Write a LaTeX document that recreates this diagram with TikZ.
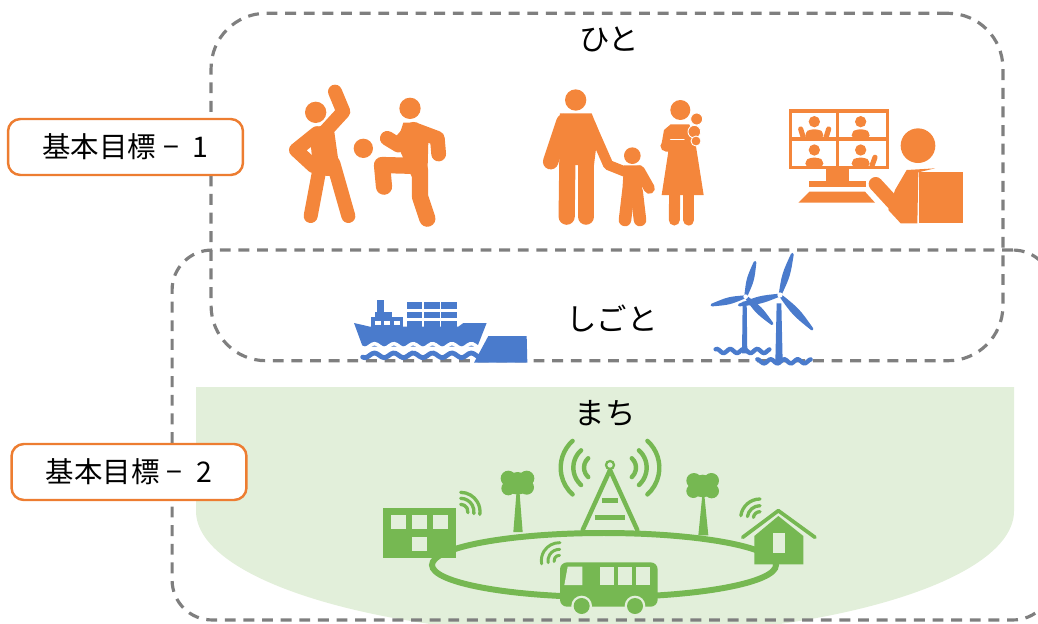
\documentclass[tikz,border=0pt]{standalone}
\usepackage{fontspec}
\setmainfont{Noto Sans CJK JP}
\usetikzlibrary{calc}
\definecolor{iconorange}{HTML}{F4863B}
\definecolor{iconblue}{HTML}{4A7BCC}
\definecolor{icongreen}{HTML}{76B852}
\definecolor{lightgreen}{HTML}{E2EFDA}
\definecolor{labelorange}{HTML}{ED7D31}
\definecolor{dashgray}{HTML}{7F7F7F}
\tikzset{
  areabox/.style={draw=dashgray, line width=1.8pt, dash pattern=on 6.2pt off 4.4pt, minimum width=#1, inner sep=0pt},
  goalbox/.style={draw=labelorange, fill=white, line width=1.4pt, rounded corners=7pt, minimum width=4.7cm, minimum height=1.12cm, inner sep=0pt, font=\fontsize{16.2}{20}\selectfont},
  areatext/.style={font=\fontsize{17.3}{20}\selectfont, inner sep=0pt},
  limb/.style={draw=iconorange, line width=#1*0.21pt, line cap=round, line join=round},
  stroke/.style={draw=icongreen, line width=#1*0.21pt, line cap=round, line join=round},
  seam/.style={draw=#1, line width=0.8pt, line cap=round},
  tide/.style={draw=iconblue, line width=#1*0.21pt, line cap=round},
  blade/.style={fill=iconblue, draw=iconblue, line width=1.6pt, line join=round}
}
\begin{document}
\begin{tikzpicture}[x=0.02cm, y=-0.02cm]
  \path[use as bounding box, clip] (0,0) rectangle (1038,623);
  % town ground
  \fill[lightgreen] (196,387) -- (1014,387) -- (1014,511) arc (0:180:409 and 125) -- cycle;

  % dashed areas
  \node[areabox=15.84cm, minimum height=6.95cm, rounded corners=1.1cm] (hitobox) at (607,187) {};
  \node[areabox=17.62cm, minimum height=7.4cm, rounded corners=0.8cm] (shigotobox) at (612.5,435) {};
  \node[areatext] (hito) at (609,39) {ひと};
  \node[areatext] (shigoto) at (612,318) {しごと};
  \node[areatext] (machi) at (605,413) {まち};

  % goal labels
  \node[goalbox] (goalone) at (125.5,147) {基本目標\hspace{4pt}−\hspace{8pt}1\hspace{4pt}};
  \node[goalbox] (goaltwo) at (129,472) {基本目標\hspace{4pt}−\hspace{8pt}2\hspace{4pt}};

  % people: ball game, family
  \begin{scope}[shift={(280,80)}, scale=1/3]
    \fill[iconorange] (107,97) circle (32);
    \draw[limb=38] (165,35) -- (190,95) -- (135,155);
    \fill[iconorange] (105,140) -- (160,135) -- (182,290) -- (100,285) -- (96,235) -- (93,200) -- cycle;
    \draw[limb=38] (110,160) -- (48,210) -- (100,258);
    \draw[limb=38] (118,270) -- (92,408);
    \draw[limb=38] (160,250) -- (205,408);
    \fill[iconorange] (250,205) circle (29);
    \fill[iconorange] (390,85) circle (32);
    \fill[iconorange] (370,128) -- (412,128) -- (445,185) -- (442,295) -- (395,290) -- (350,190) -- cycle;
    \draw[limb=40] (400,148) -- (472,175) -- (476,222);
    \draw[limb=40] (322,175) -- (355,195) -- (385,160);
    \draw[limb=44] (415,258) -- (306,255) -- (312,320);
    \draw[limb=44] (420,270) -- (420,350) -- (442,416);
    \fill[iconorange] (887,60) circle (32);
    \fill[iconorange] (840,100) -- (935,100) -- (955,150) -- (942,255) -- (838,255) -- (838,150) -- cycle;
    \draw[limb=42] (852,125) -- (812,245);
    \draw[limb=44] (862,250) -- (860,410);
    \draw[limb=44] (918,250) -- (918,410);
    \draw[limb=28] (930,130) -- (985,255) -- (1035,275);
    \fill[iconorange] (1057,227) circle (25);
    \fill[iconorange] (1032,256) -- (1080,256) -- (1088,345) -- (1026,345) -- cycle;
    \draw[limb=30] (1078,272) -- (1108,325);
    \draw[limb=34] (1045,335) -- (1035,420);
    \draw[limb=34] (1070,335) -- (1080,420);
    \fill[iconorange] (1201,90) circle (30);
    \fill[iconorange] (1172,133) -- (1228,133) -- (1245,180) -- (1271,345) -- (1145,345) -- (1165,215) -- (1145,190) -- (1152,150) -- cycle;
    \draw[limb=30] (1184,340) -- (1183,420);
    \draw[limb=30] (1226,340) -- (1226,420);
    \draw[limb=30] (1158,198) -- (1215,200);
    \fill[iconorange, draw=white, line width=0.5pt] (1243,155) circle (19);
    \fill[iconorange, draw=white, line width=0.5pt] (1248,183) circle (15);
    \fill[iconorange, draw=white, line width=0.5pt] (1250,117) circle (18);
    \draw[seam=white] (1172,178) -- (1212,178);
  \end{scope}

  % online meeting
  \begin{scope}[shift={(780,95)}, scale=1/3]
    \draw[limb=9, line cap=butt, line join=miter] (32,48) rectangle (322,218);
    \draw[limb=9, line cap=butt] (172,48) -- (172,218) (32,132) -- (322,132);
    \foreach \panex/\paney in {103/80, 242/80, 103/165, 242/165} {
      \fill[iconorange] (\panex,\paney) circle (17);
      \fill[iconorange, rounded corners=2pt] ($(\panex,\paney)+(-27,50)$) -- ($(\panex,\paney)+(-27,32)$) -- ($(\panex,\paney)+(-14,23)$) -- ($(\panex,\paney)+(14,23)$) -- ($(\panex,\paney)+(27,32)$) -- ($(\panex,\paney)+(27,50)$) -- cycle;
    }
    \draw[limb=14] (62,102) -- (70,128);
    \draw[limb=14] (146,102) -- (138,128);
    \draw[limb=14] (285,187) -- (276,212);
    \fill[iconorange] (138,220) rectangle (208,258);
    \fill[iconorange] (88,258) rectangle (258,275);
    \fill[iconorange] (88,290) -- (255,290) -- (285,323) -- (55,323) -- cycle;
    \fill[iconorange] (414,152) circle (52);
    \fill[iconorange] (380,225) -- (465,220) -- (415,232) -- (412,385) -- (362,385) -- (325,345) -- (345,285) -- cycle;
    \draw[limb=38] (287,267) -- (345,330);
    \fill[iconorange] (418,232) rectangle (550,385);
  \end{scope}

  % container ship
  \begin{scope}[shift={(340,245)}, scale=1/3]
    \fill[iconblue] (110,165) rectangle (132,200);
    \fill[iconblue] (105,200) rectangle (155,217);
    \fill[iconblue] (93,217) rectangle (190,245);
    \foreach \winx in {105,133,162}
      \fill[white] (\winx,228) rectangle +(17,12);
    \foreach \contx in {200,253,304} {
      \fill[iconblue] (\contx,170) rectangle +(46,22);
      \fill[iconblue] (\contx,200) rectangle +(46,20);
      \fill[iconblue] (\contx,228) rectangle +(46,20);
    }
    \fill[iconblue] (42,234) -- (90,245) -- (355,245) -- (370,234) -- (440,234) -- (412,305) -- (68,305) -- cycle;
    \draw[white, line width=2pt] plot[smooth, domain=60:420, samples=50] (\x,{303+7*sin(6.2*(\x-60))});
    \fill[white] (60,307) rectangle (420,316);
    \draw[tide=13] plot[smooth, domain=68:415, samples=50] (\x,{331+7*sin(6.2*(\x-60))});
    \fill[iconblue] (445,273) -- (560,273) -- (562,353) -- (402,353) -- cycle;
  \end{scope}

  % wind turbines
  \begin{scope}[shift={(700,245)}, scale=1/3]
    \fill[iconblue] (128,170) -- (140,170) -- (142,325) -- (126,325) -- cycle;
    \foreach \tipx/\tipy in {165/52, 36/180, 216/236}
      \path[blade] (137,155) .. controls ($(137,155)!0.5!9:(\tipx,\tipy)$) .. (\tipx,\tipy) .. controls ($(137,155)!0.5!-9:(\tipx,\tipy)$) .. (137,155);
    \fill[white] (137,155) circle (7);
    \fill[iconblue] (230,175) -- (244,175) -- (248,350) -- (226,350) -- cycle;
    \foreach \tipx/\tipy in {277/28, 118/180, 336/252}
      \path[blade] (240,150) .. controls ($(240,150)!0.5!8:(\tipx,\tipy)$) .. (\tipx,\tipy) .. controls ($(240,150)!0.5!-8:(\tipx,\tipy)$) .. (240,150);
    \fill[white] (240,150) circle (8);
    \draw[tide=12] plot[smooth, domain=47:208, samples=40] (\x,{318+6*sin(8.9*(\x-20))});
    \draw[tide=12] plot[smooth, domain=172:332, samples=40] (\x,{349+6*sin(8.9*(\x-20))});
  \end{scope}

  % ring road
  \draw[icongreen, line width=3.4pt] (604,565) ellipse (172 and 32);

  % building, bus wifi, left tree
  \begin{scope}[shift={(370,430)}, scale=1/3]
    \fill[icongreen] (40,233) rectangle (257,385);
    \foreach \winx/\winy in {63/255, 127/255, 190/255, 127/320}
      \fill[lightgreen] (\winx,\winy) rectangle +(44,42);
    \foreach \rad in {22,40,58}
      \draw[stroke=9] ([shift={(-90:\rad)}]272,245) arc (-90:8:\rad);
    \foreach \rad in {16,34,54}
      \draw[stroke=8] ([shift={(-88:\rad)}]568,392) arc (-88:-190:\rad);
    \fill[icongreen] (430,306) -- (458,306) -- (448,180) -- (440,180) -- cycle;
    \foreach \crownx/\crowny/\rad in {415/145/23, 470/145/23, 415/175/21, 470/172/22, 443/160/34}
      \fill[icongreen] (\crownx,\crowny) circle (\rad);
  \end{scope}

  % tower, right tree, house, bus
  \begin{scope}[shift={(590,430)}, scale=1/3]
    \draw[stroke=12] (-22,300) -- (60,120) -- (142,300);
    \draw[stroke=12, line cap=butt] (36,212) -- (84,212) (14,262) -- (106,262);
    \fill[lightgreen, draw=icongreen, line width=1.3pt] (60,105) circle (12);
    \foreach \rad in {38,70,108} {
      \draw[stroke=12] ([shift={(-48:\rad)}]100,113) arc (-48:48:\rad);
      \draw[stroke=12] ([shift={(228:\rad)}]20,113) arc (228:132:\rad);
    }
    \fill[icongreen] (325,316) -- (355,316) -- (343,195) -- (337,195) -- cycle;
    \foreach \crownx/\crowny/\rad in {312/152/23, 364/152/23, 310/183/21, 365/183/22, 338/168/34}
      \fill[icongreen] (\crownx,\crowny) circle (\rad);
    \fill[icongreen] (493,318) -- (565,258) -- (640,318) -- (640,403) -- (493,403) -- cycle;
    \fill[lightgreen] (548,310) rectangle (585,368);
    \draw[stroke=10] (458,322) -- (565,242) -- (675,322);
    \foreach \rad in {20,38,58}
      \draw[stroke=9] ([shift={(-90:\rad)}]510,265) arc (-90:-172:\rad);
    \fill[icongreen, rounded corners=4pt] (-90,397) rectangle (203,530);
    \fill[lightgreen] (-77,465) -- (-67,410) -- (-23,410) -- (-23,465) -- cycle;
    \foreach \winx in {30,83,137}
      \fill[lightgreen] (\winx,410) rectangle +(42,55);
    \foreach \wheelx in {-25,135} {
      \fill[lightgreen] (\wheelx,528) circle (31);
      \fill[icongreen] (\wheelx,528) circle (24);
    }
  \end{scope}
\end{tikzpicture}
\end{document}
